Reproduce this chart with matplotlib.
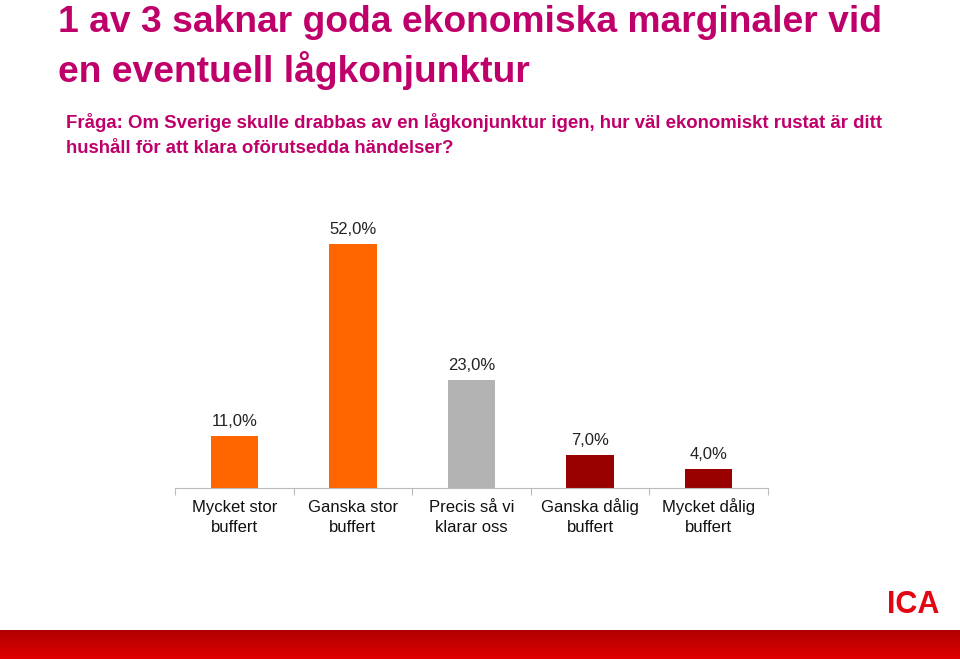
import matplotlib
matplotlib.use("Agg")
import matplotlib.pyplot as plt
import numpy as np
from matplotlib.colors import LinearSegmentedColormap

plt.rcParams["font.family"] = "Liberation Sans"

categories = ["Mycket stor\nbuffert", "Ganska stor\nbuffert", "Precis så vi\nklarar oss", "Ganska dålig\nbuffert", "Mycket dålig\nbuffert"]
values = [11.0, 52.0, 23.0, 7.0, 4.0]
colors = ["#FF6600", "#FF6600", "#B3B3B3", "#990000", "#990000"]

fig = plt.figure(figsize=(9.6, 6.59), dpi=100)
W, H = 960, 659
ax = fig.add_axes([175/W, (659-488)/H, (768-175)/W, 281/H])
x = np.arange(len(values))
ax.bar(x, values, width=0.4, color=colors)
ax.set_xlim(-0.5, len(values)-0.5)
ax.set_ylim(0, 60)
for xi, v in zip(x, values):
    ax.text(xi, v + 1.6, f"{v:.1f}".replace(".", ",") + "%", ha="center", va="bottom", fontsize=12, color="#222222")
for s in ["top", "right", "left"]:
    ax.spines[s].set_visible(False)
ax.spines["bottom"].set_color("#BBBBBB")
ax.set_yticks([])
ax.set_xticks(np.arange(-0.5, len(values), 1))
ax.set_xticklabels([])
ax.tick_params(axis="x", length=5, color="#BBBBBB")
for xi, c in zip(x, categories):
    ax.text(xi, -9.4, c, ha="center", va="baseline", fontsize=12, color="#111111", linespacing=1.4)

fig.text(58/W, 1-5/H, "1 av 3 saknar goda ekonomiska marginaler vid\nen eventuell lågkonjunktur", ha="left", va="top",
         fontsize=26.8, fontweight="bold", color="#C0006A", linespacing=1.36)
fig.text(66/W, 1-113/H, "Fråga: Om Sverige skulle drabbas av en lågkonjunktur igen, hur väl ekonomiskt rustat är ditt\nhushåll för att klara oförutsedda händelser?",
         ha="left", va="top", fontsize=13.4, fontweight="bold", color="#C0006A", linespacing=1.62)

bax = fig.add_axes([0, 0, 1, 29/H])
grad = np.linspace(0, 1, 50).reshape(-1, 1)
cm = LinearSegmentedColormap.from_list("r", ["#B00000", "#E00000"])
bax.imshow(grad, aspect="auto", cmap=cm, extent=[0, 1, 0, 1])
bax.axis("off")
fig.text(913/W, 1-605/H, "ICA", ha="center", va="center", fontsize=22, fontweight="bold", color="#E30613")

fig.savefig("out.png", dpi=100)
